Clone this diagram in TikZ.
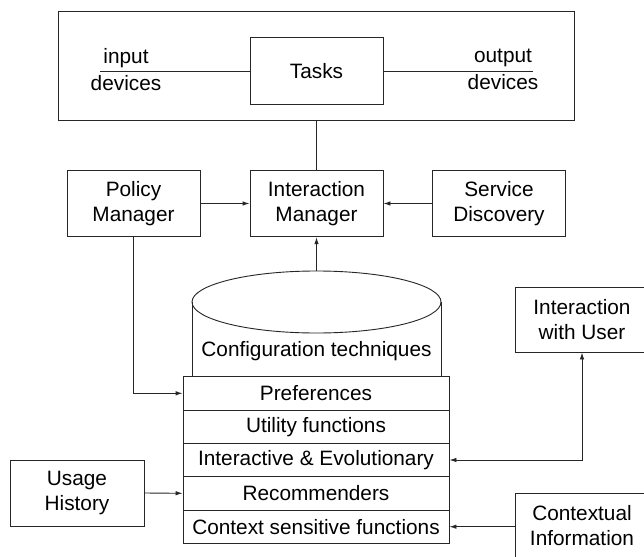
\documentclass[tikz,border=0pt]{standalone}
\usepackage{fontspec}
\setmainfont{Liberation Sans}
\usetikzlibrary{arrows.meta}
\begin{document}
\begin{tikzpicture}[x=1pt,y=-1pt,
  every node/.style={font=\fontsize{20.8}{25.5}\selectfont},
  line/.style={draw=black!85, line width=0.9pt},
  box/.style={line, align=center, inner sep=0pt, minimum width=133pt, minimum height=66.5pt},
  row/.style={line, inner sep=0pt, minimum width=266pt, minimum height=33.33pt},
  arr/.style={line, -{Latex[length=7pt,width=4.5pt]}},
  darr/.style={line, {Latex[length=7pt,width=4.5pt]}-{Latex[length=7pt,width=4.5pt]}},
  lbl/.style={align=center, inner sep=0pt}]
\path[use as bounding box, clip] (0,0) rectangle (644,556);
\fill[white] (0,0) rectangle (644,556);

% top system box
\node[line, minimum width=516pt, minimum height=109pt, inner sep=0pt] (sys) at (316,65.5) {};
\node[box] (tasks) at (316.5,71) {Tasks};
\node[lbl] (in) at (126,69.5) {input\\[1pt]devices};
\node[lbl] (out) at (503,69.5) {output\\[1pt]devices};
\coordinate (inend) at (100,71);
\coordinate (outend) at (533,71);
\draw[line] (inend) -- (tasks.west);
\draw[line] (tasks.east) -- (outend);

% managers
\node[box] (pm) at (133.5,203.5) {Policy\\Manager};
\node[box] (im) at (316.5,203.5) {Interaction\\Manager};
\node[box] (sd) at (499,203.5) {Service\\Discovery};
\draw[line] (sys.south -| im.north) -- (im.north);
\draw[arr] (pm.east) -- (im.west);
\draw[arr] (sd.west) -- (im.east);

% cylinder
\coordinate (cyltop) at (316.5,271);
\draw[line] (192,302) -- (192,377);
\draw[line] (441,302) -- (441,377);
\draw[line] (316.5,302) ellipse [x radius=124.5, y radius=31];
\node[lbl] (cfg) at (316.5,351) {Configuration techniques};
\draw[arr] (cyltop) -- (im.south);

% stack
\node[row, fill=white] (r1) at (316,393.3) {Preferences};
\node[row] (r2) at (316,426.7) {Utility functions};
\node[row] (r3) at (316,460) {Interactive \& Evolutionary};
\node[row] (r4) at (316,493.3) {Recommenders};
\node[row] (r5) at (316,526.7) {Context sensitive functions};

% side boxes
\node[box, minimum width=134pt, minimum height=66pt] (uh) at (77,493) {Usage\\History};
\node[box, minimum height=65pt] (iu) at (582,319.5) {Interaction\\with User};
\node[box, minimum height=65pt] (ci) at (582,525.5) {Contextual\\Information};

% connectors
\draw[arr] (pm.south) |- (r1.west);
\draw[arr] (uh.east) -- (r4.west);
\draw[darr] (iu.south) |- (r3.east);
\draw[arr] (ci.west |- r5.east) -- (r5.east);
\end{tikzpicture}
\end{document}
